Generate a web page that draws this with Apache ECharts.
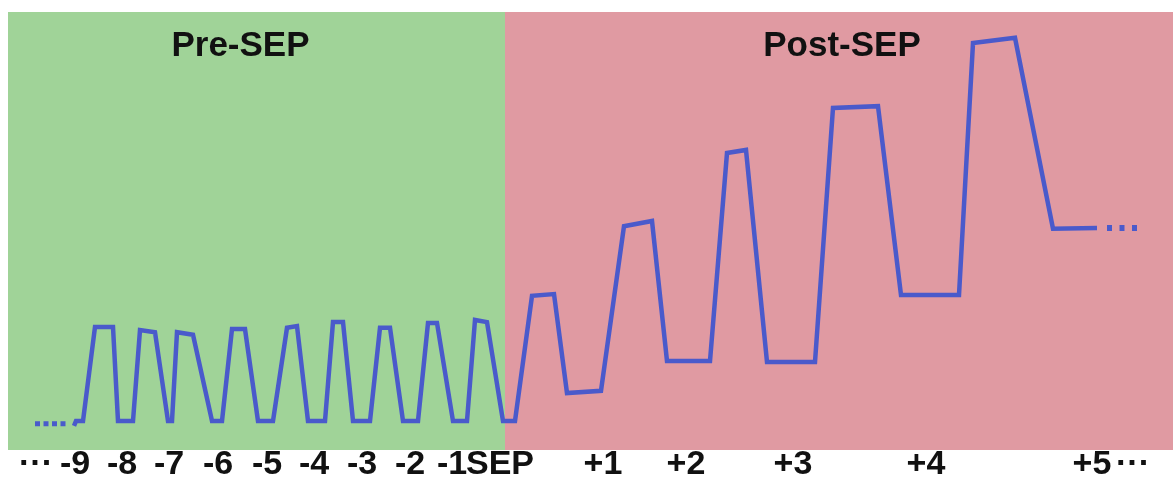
<!DOCTYPE html>
<html>
<head>
<meta charset="utf-8">
<script src="https://cdn.jsdelivr.net/npm/echarts@6/dist/echarts.min.js"></script>
<style>
html,body{margin:0;padding:0;background:#fff;}
#chart{width:1173px;height:480px;}
</style>
</head>
<body>
<div id="chart"></div>
<script>
// time position (t) and level (0-100) of the signal
const signalT = [74,76,83,95,113,118,133,140,155,168,172,177,193,212,222,232,245,258,273,287,297,308,325,333,343,353,370,380,390,403,418,428,437,453,467,475,487,503,515,532,554,567,601,624,652,667,710,727,746,767,815,833,878,901,959,973,1015,1053,1097];
const signalV = [5.5,6.6,6.6,28.1,28.1,6.6,6.6,27.4,26.9,6.6,6.6,26.9,26.3,6.6,6.6,27.6,27.6,6.6,6.6,27.9,28.3,6.6,6.6,29.2,29.2,6.6,6.6,27.9,27.9,6.6,6.6,29.0,29.0,6.6,6.6,29.7,29.2,6.6,6.6,35.2,35.6,13.0,13.5,51.1,52.3,20.3,20.3,67.8,68.5,20.1,20.1,78.1,78.5,35.4,35.4,92.9,94.1,50.5,50.7];
// continuation dots before and after
const leadT = [35, 67];
const leadV = [6.0, 6.0];
const tailT = [1107, 1140];
const tailV = [50.7, 50.7];
// phases
const phaseNames = ['Pre-SEP', 'Post-SEP'];
const phaseStart = [8, 505];
const phaseEnd = [505, 1173];
// tick labels
const tickPos = [36, 75, 122, 169, 218, 267, 314, 362, 410, 452, 500, 603, 686, 793, 926, 1092, 1133];
const tickLabels = ['···', '-9', '-8', '-7', '-6', '-5', '-4', '-3', '-2', '-1', 'SEP', '+1', '+2', '+3', '+4', '+5', '···'];

const phaseColors = ['#a0d398', '#e09aa2'];
const phaseOffsets = [[-16, 0], [3, 0]];
const lineColor = '#4a5acb';
const FONT = '"Liberation Sans", Arial, Helvetica, sans-serif';

const zip = (a, b) => a.map((x, i) => [x, b[i]]);

const chart = echarts.init(document.getElementById('chart'), null, {renderer: 'canvas'});
chart.setOption({
  animation: false,
  backgroundColor: '#ffffff',
  grid: {left: 0, right: 0, top: 12, bottom: 30, containLabel: false, outerBoundsMode: 'none'},
  xAxis: {
    type: 'value', min: 0, max: 1173,
    axisLine: {show: false}, axisTick: {show: false}, splitLine: {show: false},
    axisLabel: {
      customValues: tickPos,
      margin: -2,
      fontFamily: FONT, fontSize: 34, fontWeight: 'bold', color: '#111',
      formatter: v => tickLabels[tickPos.indexOf(v)]
    }
  },
  yAxis: {type: 'value', min: 0, max: 100, show: false},
  series: [
    {
      type: 'line', data: [], z: 1, silent: true,
      markArea: {
        silent: true,
        data: phaseNames.map((n, i) => [
          {name: n, xAxis: phaseStart[i], itemStyle: {color: phaseColors[i], opacity: 1},
           label: {show: true, position: 'insideTop', distance: 17, offset: phaseOffsets[i],
                   fontFamily: FONT, fontSize: 35, fontWeight: 'bold', color: '#111'}},
          {xAxis: phaseEnd[i]}
        ])
      }
    },
    {
      type: 'line', z: 3, data: zip(signalT, signalV), showSymbol: false, symbol: 'none',
      lineStyle: {color: lineColor, width: 4.5, join: 'miter', miterLimit: 4}
    },
    {
      type: 'line', z: 3, data: zip(leadT, leadV), showSymbol: false, symbol: 'none',
      lineStyle: {color: lineColor, width: 5, type: [5, 3.5], cap: 'butt'}
    },
    {
      type: 'line', z: 3, data: zip(tailT, tailV), showSymbol: false, symbol: 'none',
      lineStyle: {color: lineColor, width: 6, type: [5, 7.5], cap: 'butt'}
    }
  ]
});
</script>
</body>
</html>
